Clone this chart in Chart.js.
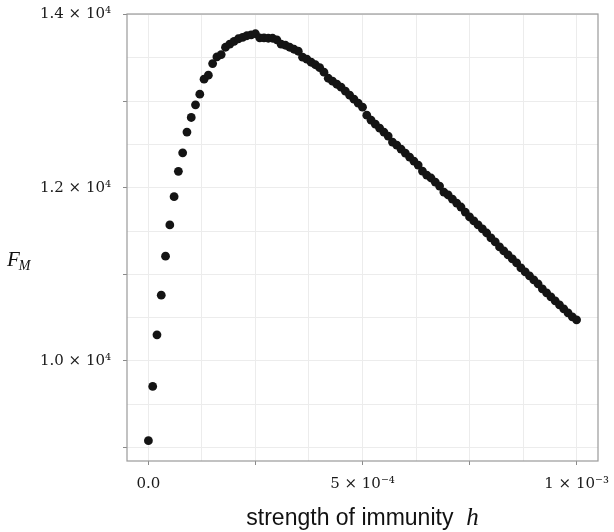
<!DOCTYPE html>
<html>
<head>
<meta charset="utf-8">
<script src="https://cdn.jsdelivr.net/npm/chart.js@4.4.0/dist/chart.umd.min.js"></script>
<style>
  html, body { margin: 0; padding: 0; background: #ffffff; }
  #wrap { width: 614px; height: 532px; }
</style>
</head>
<body>
<div id="wrap"><canvas id="fmChart" width="614" height="532"></canvas></div>
<script>
// strength of immunity h (x values)
const strength = [
    0, 0.00001, 0.00002, 0.00003, 0.00004, 0.00005, 0.00006, 0.00007, 0.00008, 0.00009,
    0.00010, 0.00011, 0.00012, 0.00013, 0.00014, 0.00015, 0.00016, 0.00017, 0.00018, 0.00019,
    0.00020, 0.00021, 0.00022, 0.00023, 0.00024, 0.00025, 0.00026, 0.00027, 0.00028, 0.00029,
    0.00030, 0.00031, 0.00032, 0.00033, 0.00034, 0.00035, 0.00036, 0.00037, 0.00038, 0.00039,
    0.00040, 0.00041, 0.00042, 0.00043, 0.00044, 0.00045, 0.00046, 0.00047, 0.00048, 0.00049,
    0.00050, 0.00051, 0.00052, 0.00053, 0.00054, 0.00055, 0.00056, 0.00057, 0.00058, 0.00059,
    0.00060, 0.00061, 0.00062, 0.00063, 0.00064, 0.00065, 0.00066, 0.00067, 0.00068, 0.00069,
    0.00070, 0.00071, 0.00072, 0.00073, 0.00074, 0.00075, 0.00076, 0.00077, 0.00078, 0.00079,
    0.00080, 0.00081, 0.00082, 0.00083, 0.00084, 0.00085, 0.00086, 0.00087, 0.00088, 0.00089,
    0.00090, 0.00091, 0.00092, 0.00093, 0.00094, 0.00095, 0.00096, 0.00097, 0.00098, 0.00099,
    0.00100
];

// F_M
const fmValues = [
    9080, 9706, 10302, 10760, 11210, 11571, 11897, 12190, 12404, 12643,
    12812, 12958, 13081, 13254, 13300, 13435, 13511, 13539, 13623, 13658,
    13692, 13721, 13738, 13756, 13767, 13779, 13732, 13732, 13727, 13727,
    13709, 13658, 13646, 13623, 13600, 13577, 13508, 13485, 13450, 13421,
    13387, 13335, 13265, 13231, 13196, 13162, 13116, 13070, 13023, 12977,
    12931, 12839, 12781, 12735, 12689, 12643, 12597, 12528, 12493, 12447,
    12401, 12355, 12309, 12262, 12193, 12147, 12113, 12066, 12020, 11951,
    11917, 11870, 11824, 11778, 11720, 11663, 11617, 11571, 11525, 11478,
    11421, 11375, 11317, 11271, 11225, 11179, 11132, 11075, 11029, 10983,
    10937, 10891, 10833, 10787, 10741, 10695, 10649, 10602, 10556, 10510,
    10475
];

// gridlines, tick marks and tick labels
const xGrid = [0, 0.000125, 0.00025, 0.000375, 0.0005, 0.000625, 0.00075, 0.000875, 0.001];
const xMajor = [0, 0.00025, 0.0005, 0.00075, 0.001];
const xLabelValues = [0, 0.0005, 0.001];
const xLabelText = ['0.0', '5 × 10⁻⁴', '1 × 10⁻³'];

const yGrid = [9000, 9500, 10000, 10500, 11000, 11500, 12000, 12500, 13000, 13500, 14000];
const yMajor = [9000, 10000, 11000, 12000, 13000, 14000];
const yLabelValues = [10000, 12000, 14000];
const yLabelText = ['1.0 × 10⁴', '1.2 × 10⁴', '1.4 × 10⁴'];

const points = strength.map((h, i) => ({ x: h, y: fmValues[i] }));

function near(a, b) {
    return Math.abs(a - b) <= Math.abs(b) * 1e-6 + 1e-12;
}
function labelFor(v, vals, texts) {
    const i = vals.findIndex(x => near(v, x));
    return i >= 0 ? texts[i] : '';
}
function isMajor(v, list) {
    return list.some(x => near(v, x));
}

// panel border + axis titles
const frameAndTitles = {
    id: 'frameAndTitles',
    afterDatasetsDraw(chart) {
        const ctx = chart.ctx;
        const a = chart.chartArea;
        ctx.save();
        ctx.strokeStyle = '#9a9a9a';
        ctx.lineWidth = 1.2;
        ctx.strokeRect(a.left, a.top, a.right - a.left, a.bottom - a.top);

        // x title: "strength of immunity  h"
        ctx.fillStyle = '#111111';
        ctx.textBaseline = 'alphabetic';
        ctx.textAlign = 'left';
        const part1 = 'strength of immunity  ';
        const sansFont = '23px "Liberation Sans", Arial, sans-serif';
        const hFont = 'italic 25px "Liberation Serif", serif';
        ctx.font = sansFont;
        const w1 = ctx.measureText(part1).width;
        ctx.font = hFont;
        const w2 = ctx.measureText('h').width;
        const x0 = (a.left + a.right) / 2 - (w1 + w2) / 2;
        ctx.font = sansFont;
        ctx.fillText(part1, x0, a.bottom + 64);
        ctx.font = hFont;
        ctx.fillText('h', x0 + w1, a.bottom + 64);

        // y title: F_M
        ctx.font = 'italic 21px "Liberation Serif", serif';
        ctx.fillText('F', 7, 266);
        const wf = ctx.measureText('F').width;
        ctx.font = 'italic 14px "Liberation Serif", serif';
        ctx.fillText('M', 7 + wf - 1, 270);
        ctx.restore();
    }
};

const ctxFm = document.getElementById('fmChart').getContext('2d');
const fmChart = new Chart(ctxFm, {
    type: 'scatter',
    data: {
        datasets: [
            {
                label: 'F_M',
                data: points,
                backgroundColor: '#141414',
                borderColor: '#141414',
                borderWidth: 0,
                pointRadius: 4.4
            }
        ]
    },
    options: {
        responsive: false,
        animation: false,
        layout: {
            padding: { left: 0, right: 16, top: 14, bottom: 0 }
        },
        plugins: {
            legend: { display: false },
            tooltip: { enabled: false }
        },
        scales: {
            x: {
                type: 'linear',
                min: -0.00005,
                max: 0.00105,
                afterBuildTicks: function(scale) {
                    scale.ticks = xGrid.map(v => ({ value: v }));
                },
                afterFit: function(scale) {
                    scale.height = 71;
                    scale.paddingLeft = 0;
                    scale.paddingRight = 0;
                },
                grid: {
                    color: '#ececec',
                    lineWidth: 1,
                    drawTicks: true,
                    tickLength: 4,
                    tickWidth: 1,
                    tickColor: function(context) {
                        return isMajor(context.tick.value, xMajor) ? '#8a8a8a' : 'rgba(0,0,0,0)';
                    }
                },
                border: { display: false },
                ticks: {
                    autoSkip: false,
                    maxRotation: 0,
                    padding: 10,
                    color: '#1a1a1a',
                    font: { family: '"DejaVu Serif", serif', size: 15 },
                    callback: function(value) {
                        return labelFor(value, xLabelValues, xLabelText);
                    }
                },
                title: { display: false }
            },
            y: {
                type: 'linear',
                min: 8845,
                max: 14007,
                afterBuildTicks: function(scale) {
                    scale.ticks = yGrid.map(v => ({ value: v }));
                },
                afterFit: function(scale) {
                    scale.width = 127;
                    scale.paddingTop = 0;
                    scale.paddingBottom = 0;
                },
                grid: {
                    color: '#ececec',
                    lineWidth: 1,
                    drawTicks: true,
                    tickLength: 4,
                    tickWidth: 1,
                    tickColor: function(context) {
                        return isMajor(context.tick.value, yMajor) ? '#8a8a8a' : 'rgba(0,0,0,0)';
                    }
                },
                border: { display: false },
                ticks: {
                    autoSkip: false,
                    padding: 12,
                    color: '#1a1a1a',
                    font: { family: '"DejaVu Serif", serif', size: 15 },
                    callback: function(value) {
                        return labelFor(value, yLabelValues, yLabelText);
                    }
                },
                title: { display: false }
            }
        }
    },
    plugins: [frameAndTitles]
});
</script>
</body>
</html>
